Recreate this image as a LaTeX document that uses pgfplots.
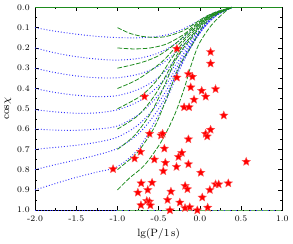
\documentclass[border=0pt]{standalone}
\usepackage{pgfplots}
\pgfplotsset{compat=1.18}
\definecolor{cblue}{RGB}{50,50,255}
\definecolor{cgreen}{RGB}{30,140,30}
\pgfdeclareplotmark{fstar}{%
 \pgfpathmoveto{\pgfpointpolar{90}{\pgfplotmarksize}}%
 \pgfpathlineto{\pgfpointpolar{126}{0.45\pgfplotmarksize}}%
 \pgfpathlineto{\pgfpointpolar{162}{\pgfplotmarksize}}%
 \pgfpathlineto{\pgfpointpolar{198}{0.45\pgfplotmarksize}}%
 \pgfpathlineto{\pgfpointpolar{234}{\pgfplotmarksize}}%
 \pgfpathlineto{\pgfpointpolar{270}{0.45\pgfplotmarksize}}%
 \pgfpathlineto{\pgfpointpolar{306}{\pgfplotmarksize}}%
 \pgfpathlineto{\pgfpointpolar{342}{0.45\pgfplotmarksize}}%
 \pgfpathlineto{\pgfpointpolar{18}{\pgfplotmarksize}}%
 \pgfpathlineto{\pgfpointpolar{54}{0.45\pgfplotmarksize}}%
 \pgfpathclose
 \pgfusepathqfillstroke}
\pgfplotstableread{
x y
-0.279 0.204
0.130 0.220
0.130 0.277
-0.279 0.346
-0.139 0.329
-0.091 0.342
-0.111 0.394
0.022 0.411
0.070 0.440
0.190 0.403
-0.071 0.455
-0.191 0.492
-0.131 0.492
0.290 0.533
-0.672 0.440
-0.610 0.623
-0.471 0.631
-0.452 0.623
-0.139 0.650
0.070 0.623
0.130 0.603
0.089 0.636
-0.431 0.696
-0.219 0.717
-0.260 0.737
-0.552 0.750
-0.419 0.766
-0.139 0.773
-0.284 0.786
-0.444 0.807
0.011 0.815
0.562 0.761
-0.712 0.867
-0.580 0.864
-0.179 0.880
-0.632 0.900
-0.351 0.908
-0.151 0.896
0.121 0.900
0.190 0.872
0.228 0.872
0.345 0.867
0.029 0.937
-0.392 0.949
-0.644 0.954
-0.612 0.957
-0.243 0.962
-0.600 0.976
-0.715 0.975
-0.363 1.000
-0.180 0.989
-0.123 0.985
-0.031 1.000
0.095 0.987
-1.053 0.797
-0.792 0.745
-0.720 0.712
-0.752 0.913
}\stars
\begin{document}
\begin{tikzpicture}
\begin{axis}[
  scale only axis, width=187pt, height=153.4pt,
  xmin=-2, xmax=1, ymin=0, ymax=1, y dir=reverse,
  clip=false,
  xtick={-2,-1.5,-1,-0.5,0,0.5,1},
  xticklabels={-2.0,-1.5,-1.0,-0.5,0.0,0.5,1.0},
  ytick={0,0.1,0.2,0.3,0.4,0.5,0.6,0.7,0.8,0.9,1},
  yticklabels={0.0,0.1,0.2,0.3,0.4,0.5,0.6,0.7,0.8,0.9,1.0},
  minor x tick num=1, minor y tick num=1,
  tick align=inside, major tick length=3pt, minor tick length=1.6pt,
  tick style={black, line width=0.4pt},
  axis line style={black, line width=0.6pt},
  ticklabel style={font=\fontsize{6.5}{7}\selectfont},
  label style={font=\fontsize{8}{9}\selectfont},
  xlabel={lg(P/1\,s)},
  ylabel={cos$\chi$},
  xlabel style={at={(axis description cs:0.5,-0.115)}, anchor=center},
  ylabel style={at={(axis description cs:-0.11,0.5)}, anchor=center, rotate=0},
  yticklabel style={xshift=-0.5pt},
  xticklabel style={yshift=-0.5pt},
]
% blue dotted family (start lg P = -2)
\pgfplotsset{bl/.style={cblue, line width=0.7pt, dash pattern=on 0.7pt off 1.5pt, smooth, tension=0.5}}
\addplot[bl] coordinates {(-2,0.10)(-1.75,0.118)(-1.5,0.132)(-1.25,0.143)(-1,0.149)(-0.75,0.150)(-0.55,0.145)(-0.4,0.135)(-0.25,0.115)(-0.1,0.085)(0.05,0.052)(0.2,0.022)(0.39,0)};
\addplot[bl] coordinates {(-2,0.20)(-1.75,0.225)(-1.5,0.243)(-1.25,0.255)(-1,0.260)(-0.75,0.252)(-0.55,0.232)(-0.4,0.205)(-0.25,0.165)(-0.1,0.115)(0.05,0.068)(0.2,0.028)(0.39,0)};
\addplot[bl] coordinates {(-2,0.30)(-1.75,0.322)(-1.5,0.338)(-1.25,0.347)(-1,0.347)(-0.75,0.330)(-0.55,0.300)(-0.4,0.260)(-0.25,0.205)(-0.1,0.140)(0.05,0.080)(0.2,0.032)(0.39,0)};
\addplot[bl] coordinates {(-2,0.40)(-1.75,0.420)(-1.5,0.433)(-1.25,0.440)(-1,0.435)(-0.75,0.405)(-0.55,0.360)(-0.4,0.305)(-0.25,0.235)(-0.1,0.158)(0.05,0.088)(0.2,0.035)(0.39,0)};
\addplot[bl] coordinates {(-2,0.505)(-1.75,0.515)(-1.5,0.522)(-1.25,0.520)(-1,0.505)(-0.75,0.465)(-0.55,0.405)(-0.4,0.340)(-0.25,0.258)(-0.1,0.170)(0.05,0.093)(0.2,0.037)(0.39,0)};
\addplot[bl] coordinates {(-2,0.60)(-1.75,0.605)(-1.5,0.606)(-1.25,0.600)(-1,0.585)(-0.75,0.530)(-0.55,0.455)(-0.4,0.375)(-0.25,0.275)(-0.1,0.178)(0.05,0.096)(0.2,0.038)(0.39,0)};
\addplot[bl] coordinates {(-2,0.70)(-1.75,0.690)(-1.5,0.680)(-1.25,0.665)(-1,0.640)(-0.75,0.580)(-0.55,0.495)(-0.4,0.405)(-0.25,0.290)(-0.1,0.184)(0.05,0.098)(0.2,0.039)(0.39,0)};
\addplot[bl] coordinates {(-2,0.80)(-1.75,0.775)(-1.5,0.752)(-1.25,0.728)(-1,0.695)(-0.75,0.625)(-0.55,0.530)(-0.4,0.430)(-0.25,0.300)(-0.1,0.188)(0.05,0.099)(0.2,0.040)(0.39,0)};
\addplot[bl] coordinates {(-2,0.90)(-1.75,0.868)(-1.5,0.838)(-1.25,0.812)(-1,0.785)(-0.75,0.700)(-0.55,0.565)(-0.4,0.450)(-0.25,0.310)(-0.1,0.190)(0.05,0.100)(0.2,0.040)(0.39,0)};
\addplot[cblue, line width=0.7pt, dash pattern=on 0.7pt off 1.5pt] coordinates {(-2,1)(1,1)};
% green dashed family (start lg P = -1)
\pgfplotsset{gr/.style={cgreen, line width=0.6pt, dash pattern=on 3.5pt off 1.3pt, smooth, tension=0.5}}
\addplot[gr] coordinates {(-1,0.10)(-0.85,0.128)(-0.7,0.143)(-0.55,0.148)(-0.4,0.143)(-0.2,0.115)(-0.1,0.090)(0.05,0.050)(0.2,0.022)(0.39,0)};
\addplot[gr] coordinates {(-1,0.20)(-0.8,0.205)(-0.6,0.200)(-0.4,0.180)(-0.2,0.135)(-0.1,0.100)(0.05,0.055)(0.2,0.024)(0.39,0)};
\addplot[gr] coordinates {(-1,0.30)(-0.71,0.272)(-0.5,0.238)(-0.3,0.180)(-0.1,0.108)(0.05,0.058)(0.2,0.025)(0.39,0)};
\addplot[gr] coordinates {(-1,0.40)(-0.75,0.354)(-0.47,0.272)(-0.3,0.200)(-0.1,0.118)(0.05,0.062)(0.2,0.027)(0.39,0)};
\addplot[gr] coordinates {(-1,0.50)(-0.71,0.435)(-0.51,0.354)(-0.35,0.256)(-0.2,0.170)(-0.1,0.128)(0.05,0.066)(0.2,0.028)(0.39,0)};
\addplot[gr] coordinates {(-1,0.60)(-0.75,0.533)(-0.55,0.435)(-0.39,0.320)(-0.25,0.215)(-0.1,0.140)(0.05,0.070)(0.2,0.030)(0.39,0)};
\addplot[gr] coordinates {(-1,0.70)(-0.79,0.630)(-0.59,0.517)(-0.43,0.386)(-0.31,0.272)(-0.2,0.200)(-0.1,0.150)(0.05,0.075)(0.2,0.032)(0.39,0)};
\addplot[gr] coordinates {(-1,0.80)(-0.88,0.760)(-0.75,0.712)(-0.55,0.590)(-0.39,0.435)(-0.25,0.290)(-0.1,0.190)(0.05,0.085)(0.2,0.036)(0.39,0)};
\addplot[gr] coordinates {(-1,0.90)(-0.85,0.840)(-0.67,0.777)(-0.47,0.663)(-0.31,0.533)(-0.19,0.400)(-0.11,0.290)(-0.01,0.180)(0.146,0.085)(0.31,0.020)(0.39,0)};
\addplot[cgreen!70, line width=0.6pt, dash pattern=on 3.5pt off 1.3pt] coordinates {(-1,1)(1,1)};
\addplot[cgreen, line width=0.7pt] coordinates {(-2,0)(1,0)};
% observed pulsars
\addplot[only marks, mark=fstar, mark size=3.3pt, draw=red!65, fill=red, mark options={line width=0.3pt, solid}] table {\stars};
\end{axis}
\end{tikzpicture}
\end{document}
